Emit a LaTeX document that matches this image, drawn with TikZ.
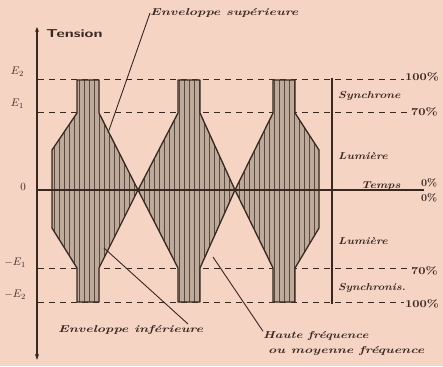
\documentclass[tikz,border=0pt]{standalone}
\usepackage{fontspec}
\usetikzlibrary{arrows.meta}
\definecolor{bg}{RGB}{245,212,196}
\definecolor{ink}{RGB}{55,40,32}
\definecolor{burstfill}{RGB}{190,170,154}
\definecolor{hatch}{RGB}{90,74,62}
\newcommand\stretchtext[2]{\scalebox{#1}[1]{#2}}
\tikzset{
  lbl/.style={inner sep=0pt, text=ink, font=\fontsize{10}{10}\selectfont\bfseries\itshape},
  pct/.style={inner sep=0pt, text=ink, font=\fontsize{10.5}{10.5}\selectfont\bfseries},
  elbl/.style={inner sep=0pt, text=ink, font=\fontsize{11}{11}\selectfont},
  level/.style={ink, line width=1pt, dash pattern=on 6pt off 5pt},
  outline/.style={ink, line width=1.3pt, line join=round},
  leader/.style={ink, line width=0.9pt},
}
\begin{document}
\begin{tikzpicture}[x=1pt,y=-1pt]
\fill[bg] (0,0) rectangle (443,366);
\useasboundingbox (0,0) rectangle (443,366);

% level lines
\draw[level] (38,80) -- (404,80);
\draw[level] (38,113) -- (410,113);
\draw[level] (38,268) -- (410,268);
\draw[level] (38,302) -- (404,302);

% bursts
\def\burstA{(77,80) -- (99,80) -- (99,113) -- (138,190) -- (99,268) -- (99,302) -- (77,302) -- (77,268) -- (52,228) -- (52,150) -- (77,113) -- cycle}
\def\burstB{(178,80) -- (200,80) -- (200,113) -- (235,190) -- (200,268) -- (200,302) -- (178,302) -- (178,268) -- (138,190) -- (178,113) -- cycle}
\def\burstC{(273,80) -- (295,80) -- (295,113) -- (319,150) -- (319,228) -- (295,268) -- (295,302) -- (273,302) -- (273,268) -- (235,190) -- (273,113) -- cycle}
\foreach \shp in {\burstA,\burstB,\burstC}{
  \begin{scope}
    \fill[burstfill] \shp;
    \clip \shp;
    \foreach \x in {54,59,...,320}{
      \draw[hatch, line width=1pt] (\x,70) -- (\x,310);
    }
  \end{scope}
  \draw[outline] \shp;
}

% axes
\draw[ink, line width=1.8pt, {Stealth[length=5pt,width=4pt]}-{Stealth[length=6pt,width=4pt]}] (37,27) -- (37,360);
\draw[ink, line width=1.2pt] (37,190) -- (424,190);
\draw[ink, line width=1.2pt] (332,78) -- (332,304);

% left labels
\node[elbl, anchor=east] (e2) at (24,72) {$E_2$};
\node[elbl, anchor=east] (e1) at (24,104) {$E_1$};
\node[elbl, anchor=east] (zero) at (26,187) {$0$};
\node[elbl, anchor=east] (me1) at (26,263) {$-E_1$};
\node[elbl, anchor=east] (me2) at (26,295) {$-E_2$};
\node[inner sep=0pt, text=ink, font=\fontsize{11.5}{11.5}\selectfont\sffamily\bfseries, anchor=west] (tension) at (46,34) {\stretchtext{1.4}{Tension}};

% right labels
\node[pct, anchor=west] (p100a) at (405,77) {\stretchtext{1.2}{100\%}};
\node[lbl, anchor=west] (sync1) at (338,96) {\stretchtext{1.2}{Synchrone}};
\node[pct, anchor=west] (p70a) at (411,112) {\stretchtext{1.2}{70\%}};
\node[lbl, anchor=west] (lum1) at (338,156) {\stretchtext{1.2}{Lumière}};
\node[lbl, anchor=west] (temps) at (361,186) {\stretchtext{1.2}{Temps}};
\node[pct, anchor=west] (p0a) at (421,183) {0\%};
\node[pct, anchor=west] (p0b) at (421,198) {0\%};
\node[lbl, anchor=west] (lum2) at (338,241) {\stretchtext{1.2}{Lumière}};
\node[pct, anchor=west] (p70b) at (411,271) {\stretchtext{1.2}{70\%}};
\node[lbl, anchor=west] (sync2) at (338,288) {\stretchtext{1.15}{Synchronis.}};
\node[pct, anchor=west] (p100b) at (405,304) {\stretchtext{1.2}{100\%}};

% annotations
\node[lbl, anchor=west] (esup) at (150,13) {\stretchtext{1.4}{Enveloppe supérieure}};
\node[lbl, anchor=west] (einf) at (58,330) {\stretchtext{1.4}{Enveloppe inférieure}};
\node[lbl, anchor=west] (hf) at (263,336) {\stretchtext{1.3}{Haute fréquence}};
\node[lbl, anchor=west] (mf) at (268,351) {\stretchtext{1.4}{ou moyenne fréquence}};

\coordinate (esupend) at (108,133);
\coordinate (einfend) at (104,248);
\coordinate (einfstart) at (188,324);
\coordinate (hfend) at (213,257);
\draw[leader] (esup.west) -- (esupend);
\draw[leader] (einfstart) -- (einfend);
\draw[leader] (hf.north west) -- (hfend);
\end{tikzpicture}
\end{document}
